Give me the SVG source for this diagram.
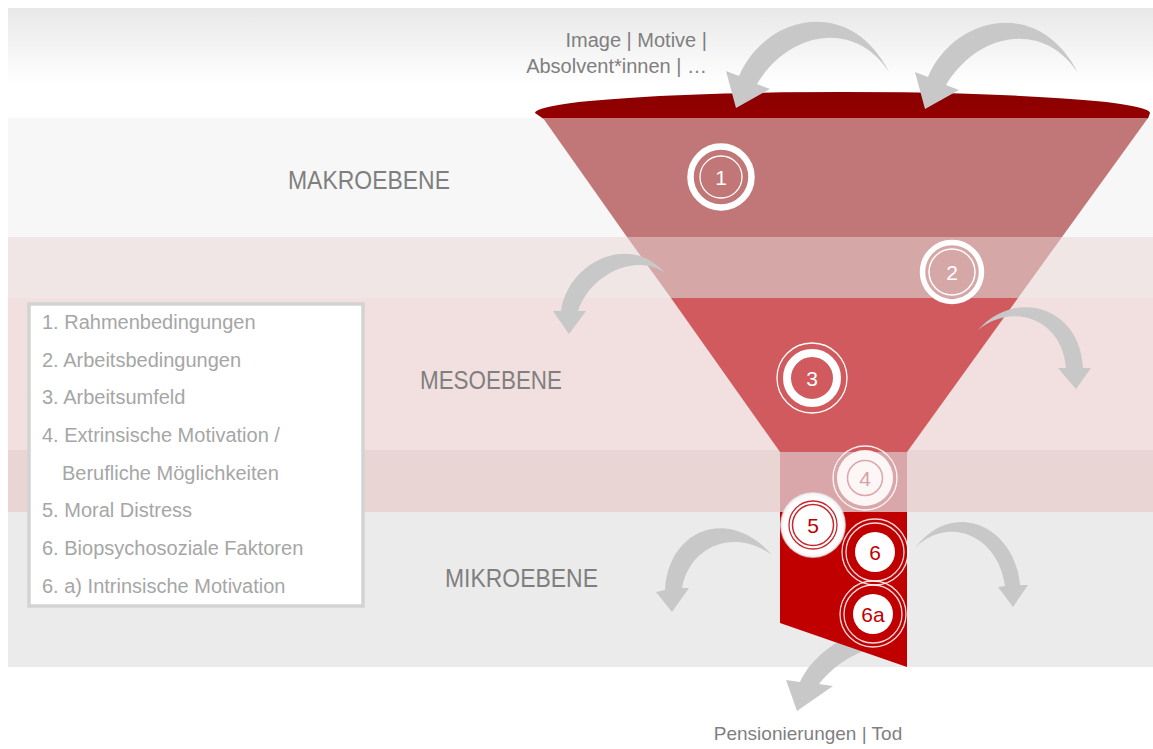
<svg xmlns="http://www.w3.org/2000/svg" width="1153" height="749" viewBox="0 0 1153 749">
<defs>
<linearGradient id="topg" x1="0" y1="0" x2="0" y2="1">
<stop offset="0" stop-color="#e8e8e8"/>
<stop offset="0.7" stop-color="#ffffff"/>
<stop offset="1" stop-color="#ffffff"/>
</linearGradient>
<linearGradient id="lidg" x1="0" y1="0" x2="0" y2="1">
<stop offset="0" stop-color="#8a0000"/>
<stop offset="1" stop-color="#950000"/>
</linearGradient>
<radialGradient id="glow5" cx="0.5" cy="0.5" r="0.5">
<stop offset="0.85" stop-color="#ffffff"/>
<stop offset="0.95" stop-color="#f4f4f4"/>
<stop offset="1" stop-color="#e6e6e6" stop-opacity="0.6"/>
</radialGradient>
<path id="arrowA" d="M739,76 C765,15 850,-5 889,72 C855,20 790,30 757,84 L770,89 L736,108 L726,71 Z"/>
</defs>
<style>
.arrow{fill:#c8c8c8}
.lvl{font-family:"Liberation Sans",Arial,sans-serif;font-size:25px;fill:#7f7f7f}
.cap{font-family:"Liberation Sans",Arial,sans-serif;font-size:20px;fill:#7f7f7f}
.leg{font-family:"Liberation Sans",Arial,sans-serif;font-size:20px;fill:#a6a6a6}
.num{font-family:"Liberation Sans",Arial,sans-serif;font-size:21px;text-anchor:middle}
.wr{fill:none;stroke:#ffffff}
</style>
<rect x="0" y="0" width="1153" height="749" fill="#ffffff"/>
<g id="bands">
<rect x="8" y="8" width="1145" height="110" fill="url(#topg)"/>
<rect x="8" y="118" width="1145" height="119" fill="#f7f7f7"/>
<rect x="8" y="237" width="1145" height="61" fill="#f0e6e6"/>
<rect x="8" y="298" width="1145" height="152" fill="#f2dfdf"/>
<rect x="8" y="450" width="1145" height="62" fill="#ead5d5"/>
<rect x="8" y="512" width="1145" height="155" fill="#ebebeb"/>
</g>
<g id="labels">
<text class="lvl" x="288" y="189" textLength="162" lengthAdjust="spacingAndGlyphs">MAKROEBENE</text>
<text class="lvl" x="420" y="389" textLength="142" lengthAdjust="spacingAndGlyphs">MESOEBENE</text>
<text class="lvl" x="445" y="587" textLength="153" lengthAdjust="spacingAndGlyphs">MIKROEBENE</text>
<text class="cap" x="707" y="47" text-anchor="end">Image | Motive |</text>
<text class="cap" x="707" y="73" text-anchor="end">Absolvent*innen | …</text>
<text class="cap" x="808" y="740" text-anchor="middle" style="font-size:19px">Pensionierungen | Tod</text>
</g>
<g id="bottom-arrow">
<path class="arrow" d="M800,682 C808,665 822,650 848,636 L866,650 C845,658 830,670 819,684 L833,686 L797,711 L786,680 Z"/>
</g>
<g id="funnel">
<path d="M535,113 A307,21 0 0 1 1150,113 L1148,118.5 L543,118.5 Z" fill="url(#lidg)"/>
<polygon points="543,118 1148,118 1062,237 627,237" fill="#c17677"/>
<polygon points="627,237 1062,237 1018,298 671,298" fill="#d5a7a7"/>
<polygon points="671,298 1018,298 907,452 780,452" fill="#d05a5d"/>
<rect x="780" y="452" width="127" height="60" fill="#d9a7a9"/>
<polygon points="780,512 907,512 907,667 780,623" fill="#c00000"/>
</g>
<g id="connectors">
<use href="#arrowA" class="arrow"/>
<use href="#arrowA" class="arrow" transform="translate(189,1)"/>
<path class="arrow" d="M561,311 C568,262 630,232 665,273 C635,252 590,275 578,311 L586,311 L569,334 L553,311 Z"/>
<path class="arrow" d="M1083,368 C1080,306 1015,288 978,330 C1012,302 1062,318 1066,368 L1058,368 L1076,389 L1091,368 Z"/>
<path class="arrow" d="M665,590 C668,530 728,505 772,555 C735,528 690,545 682,588 L689,588 L672,612 L656,592 Z"/>
<path class="arrow" d="M1020,585 C1015,525 952,498 915,548 C948,515 998,535 1005,586 L998,587 L1013,607 L1028,585 Z"/>
</g>
<g id="legend">
<rect x="29" y="304" width="334" height="302" fill="#ffffff" stroke="#d3d3d3" stroke-width="3.5"/>
<text class="leg" x="42" y="329">1. Rahmenbedingungen</text>
<text class="leg" x="42" y="367">2. Arbeitsbedingungen</text>
<text class="leg" x="42" y="404">3. Arbeitsumfeld</text>
<text class="leg" x="42" y="442">4. Extrinsische Motivation /</text>
<text class="leg" x="62" y="480">Berufliche Möglichkeiten</text>
<text class="leg" x="42" y="517">5. Moral Distress</text>
<text class="leg" x="42" y="555">6. Biopsychosoziale Faktoren</text>
<text class="leg" x="42" y="593">6. a) Intrinsische Motivation</text>
</g>
<g id="node-1">
<circle class="wr" cx="721" cy="177" r="30.5" stroke-width="6.5"/>
<circle class="wr" cx="721" cy="177" r="21" stroke-width="1.3"/>
<text class="num" x="721" y="185" fill="#ffffff">1</text>
</g>
<g id="node-2">
<circle class="wr" cx="952" cy="272" r="29.5" stroke-width="5.5"/>
<circle class="wr" cx="952" cy="272" r="23" stroke-width="1.5"/>
<text class="num" x="952" y="280" fill="#ffffff">2</text>
</g>
<g id="node-3">
<circle class="wr" cx="812" cy="378" r="35" stroke-width="1.3"/>
<circle class="wr" cx="812" cy="378" r="25" stroke-width="8"/>
<text class="num" x="812" y="386" fill="#ffffff">3</text>
</g>
<g id="node-4">
<circle class="wr" cx="865" cy="478" r="32" stroke-width="1.3" stroke-opacity="0.9"/>
<circle cx="865" cy="478" r="28" fill="#ffffff" fill-opacity="0.9"/>
<circle cx="865" cy="478" r="17.5" fill="none" stroke="#dca6ab" stroke-width="1.5"/>
<text class="num" x="865" y="486" fill="#d9a0a6">4</text>
</g>
<g id="node-5">
<circle cx="813" cy="525" r="33" fill="url(#glow5)"/>
<circle cx="813" cy="525" r="24" fill="none" stroke="#c8262c" stroke-width="1.3"/>
<circle cx="813" cy="525" r="20.5" fill="none" stroke="#c8262c" stroke-width="1.5"/>
<text class="num" x="813" y="533" fill="#c00000">5</text>
</g>
<g id="node-6">
<circle class="wr" cx="875" cy="552" r="33" stroke-width="1.3" stroke-opacity="0.85"/>
<circle class="wr" cx="875" cy="552" r="29" stroke-width="1.3" stroke-opacity="0.85"/>
<circle cx="875" cy="552" r="20" fill="#ffffff"/>
<text class="num" x="875" y="560" fill="#c00000">6</text>
</g>
<g id="node-6a">
<circle class="wr" cx="873" cy="614" r="33" stroke-width="1.3" stroke-opacity="0.85"/>
<circle class="wr" cx="873" cy="614" r="29" stroke-width="1.3" stroke-opacity="0.85"/>
<circle cx="873" cy="614" r="20" fill="#ffffff"/>
<text class="num" x="873" y="622" fill="#c00000">6a</text>
</g>
</svg>
